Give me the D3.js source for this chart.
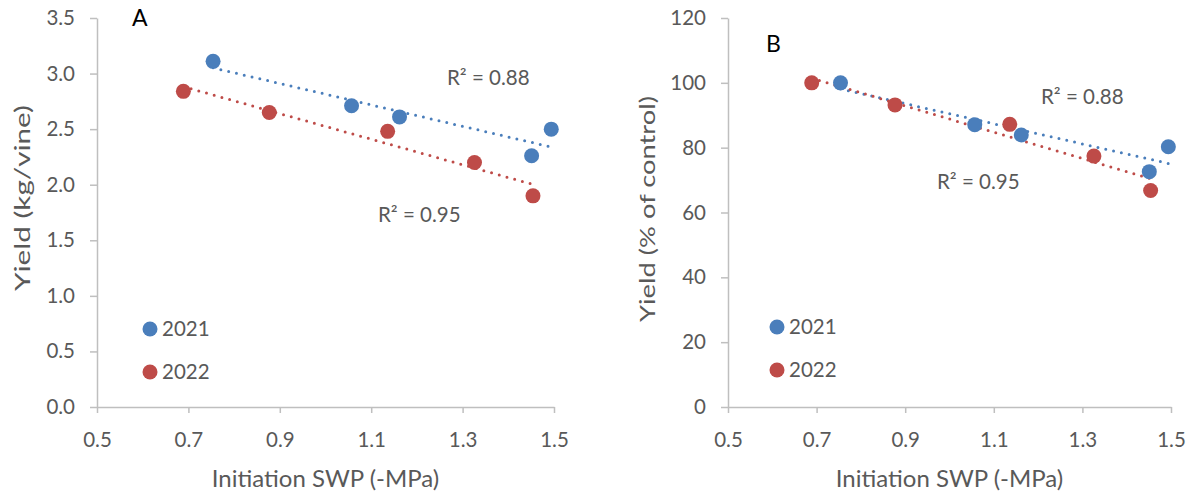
<!DOCTYPE html>
<html>
<head>
<meta charset="utf-8">
<style>
  body { margin: 0; background: #fff; }
  svg { display: block; font-family: Lato, "Open Sans", sans-serif; }
  .axis path, .axis line { stroke: #bfbfbf; stroke-width: 1.5; }
  .axis text { fill: #595959; font-size: 20.5px; font-family: Lato, sans-serif; }
  .title { fill: #595959; font-size: 24px; }
  .ytitle { fill: #595959; font-size: 22px; }
  .r2 { fill: #595959; font-size: 20.5px; }
  .legend text { fill: #595959; font-size: 20.5px; }
  .panel { fill: #000; font-size: 23px; }
</style>
</head>
<body>
<svg width="1192" height="495"></svg>
<script src="https://d3js.org/d3.v7.min.js"></script>
<script>
// initiation stem water potential (-MPa)
var swp2021 = [0.754, 1.057, 1.162, 1.451, 1.494];
var swp2022 = [0.689, 0.877, 1.136, 1.326, 1.454];
// yield kg/vine
var yield2021 = [3.11, 2.71, 2.61, 2.26, 2.50];
var yield2022 = [2.84, 2.65, 2.48, 2.20, 1.90];
// yield % of control
var pct2021 = [100, 87.1, 83.9, 72.6, 80.3];
var pct2022 = [100, 93.2, 87.2, 77.4, 66.8];

var xTicks = [0.5, 0.7, 0.9, 1.1, 1.3, 1.5];
var yTicksA = [0, 0.5, 1.0, 1.5, 2.0, 2.5, 3.0, 3.5];
var yTicksB = [0, 20, 40, 60, 80, 100, 120];

var colors = {"2021": "#4a7ebb", "2022": "#be4b48"};

var svg = d3.select("svg");

function fit(xs, ys) {
  var mx = d3.mean(xs), my = d3.mean(ys);
  var sxy = d3.sum(xs, function(x, i) { return (x - mx) * (ys[i] - my); });
  var sxx = d3.sum(xs, function(x) { return (x - mx) * (x - mx); });
  var b = sxy / sxx;
  return {b: b, a: my - b * mx};
}

function panel(opt) {
  var x = d3.scaleLinear().domain([0.5, 1.5]).range([opt.left, opt.right]);
  var y = d3.scaleLinear().domain(opt.ydomain).range([407, 18]);
  var g = svg.append("g");

  g.append("g")
    .attr("class", "axis")
    .attr("transform", "translate(0,407)")
    .call(d3.axisBottom(x).tickValues(xTicks).tickSize(6).tickSizeOuter(0).tickPadding(19).tickFormat(d3.format(".1f")));

  g.append("g")
    .attr("class", "axis")
    .attr("transform", "translate(" + opt.left + ",0)")
    .call(d3.axisLeft(y).tickValues(opt.yticks).tickSize(7).tickSizeOuter(0).tickPadding(15).tickFormat(opt.yfmt));

  g.append("text")
    .attr("class", "title")
    .attr("x", (opt.left + opt.right) / 2)
    .attr("y", 487)
    .attr("text-anchor", "middle")
    .text("Initiation SWP (-MPa)");

  g.append("text")
    .attr("class", "ytitle")
    .attr("transform", "translate(" + opt.ytitleX + "," + opt.ytitleY + ") rotate(-90)")
    .attr("text-anchor", "middle")
    .attr("textLength", opt.ytitleLen)
    .attr("lengthAdjust", "spacingAndGlyphs")
    .text(opt.ytitle);

  g.append("text")
    .attr("class", "panel")
    .attr("x", opt.panelX)
    .attr("y", opt.panelY)
    .text(opt.label);

  opt.series.forEach(function(s) {
    var f = fit(s.xs, s.ys);
    var x0 = d3.min(s.xs), x1 = d3.max(s.xs);
    g.append("line")
      .attr("x1", x(x0)).attr("y1", y(f.a + f.b * x0))
      .attr("x2", x(x1)).attr("y2", y(f.a + f.b * x1))
      .attr("stroke", colors[s.name])
      .attr("stroke-width", 3)
      .attr("stroke-linecap", "round")
      .attr("stroke-dasharray", "0,8");
  });

  opt.series.forEach(function(s) {
    g.selectAll(null)
      .data(s.xs.map(function(v, i) { return [v, s.ys[i]]; }))
      .enter()
      .append("circle")
      .attr("cx", function(d) { return x(d[0]); })
      .attr("cy", function(d) { return y(d[1]); })
      .attr("r", 7.5)
      .attr("fill", colors[s.name]);
  });

  opt.r2.forEach(function(r) {
    g.append("text")
      .attr("class", "r2")
      .attr("x", r.x).attr("y", r.y)
      .text("R² = " + r.v);
  });

  var leg = g.append("g").attr("class", "legend");
  ["2021", "2022"].forEach(function(name, i) {
    var ly = opt.legendY + i * 43;
    leg.append("circle")
      .attr("cx", opt.legendX).attr("cy", ly).attr("r", 7.5)
      .attr("fill", colors[name]);
    leg.append("text")
      .attr("x", opt.legendX + 12).attr("y", ly)
      .attr("dy", "0.36em")
      .text(name);
  });
}

panel({
  left: 97, right: 554,
  ydomain: [0, 3.5], yticks: yTicksA, yfmt: d3.format(".1f"),
  ytitle: "Yield (kg/vine)", ytitleX: 30, ytitleY: 198, ytitleLen: 186,
  label: "A", panelX: 132, panelY: 26,
  series: [
    {name: "2021", xs: swp2021, ys: yield2021},
    {name: "2022", xs: swp2022, ys: yield2022}
  ],
  r2: [{v: "0.88", x: 447, y: 85}, {v: "0.95", x: 378, y: 222}],
  legendX: 150, legendY: 329
});

panel({
  left: 728, right: 1171,
  ydomain: [0, 120], yticks: yTicksB, yfmt: d3.format("d"),
  ytitle: "Yield (% of control)", ytitleX: 655, ytitleY: 209, ytitleLen: 226,
  label: "B", panelX: 766, panelY: 52,
  series: [
    {name: "2021", xs: swp2021, ys: pct2021},
    {name: "2022", xs: swp2022, ys: pct2022}
  ],
  r2: [{v: "0.88", x: 1041, y: 104}, {v: "0.95", x: 937, y: 189}],
  legendX: 777, legendY: 327
});
</script>
</body>
</html>
